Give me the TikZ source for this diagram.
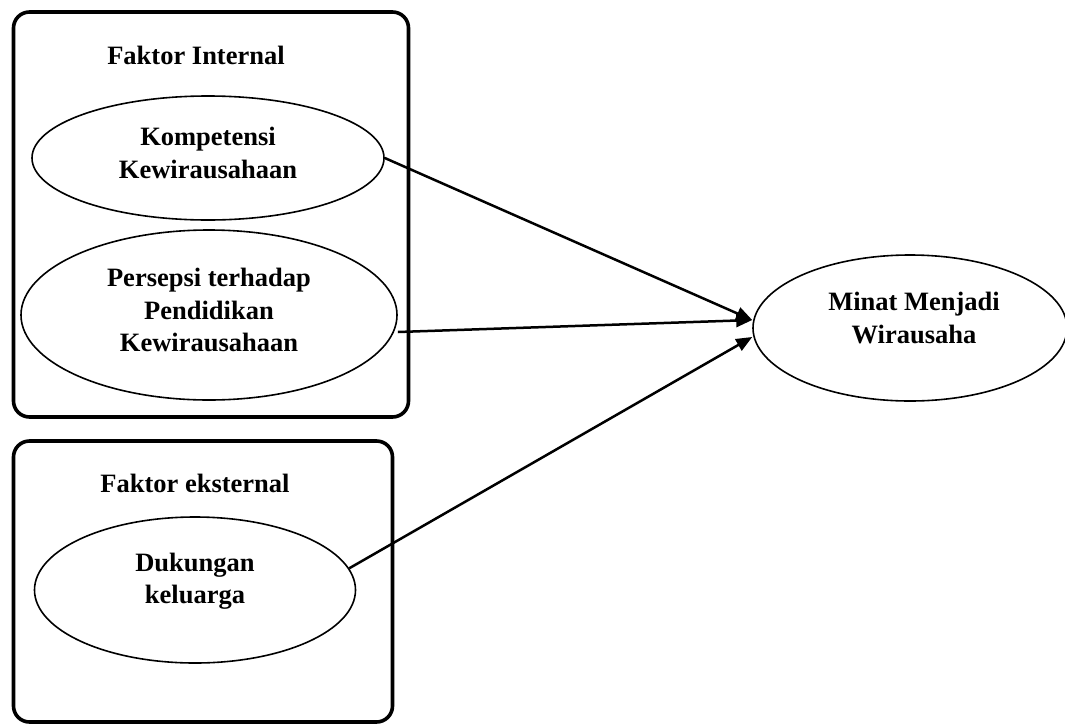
\documentclass[tikz,border=0pt]{standalone}
\usepackage{fontspec}
\setmainfont{Liberation Serif}
\usetikzlibrary{shapes.geometric,arrows.meta}
\begin{document}
\begin{tikzpicture}[x=1pt,y=-1pt,
  grp/.style={draw, line width=3.6pt, rounded corners=16pt, inner sep=0pt},
  oval/.style={draw, ellipse, line width=1.6pt, inner sep=0pt},
  lbl/.style={font=\fontsize{26.5}{32.5}\selectfont\bfseries, align=center, inner sep=0pt},
  arr/.style={line width=2.5pt, -{Triangle[length=16pt,width=13pt]}}]
\useasboundingbox (0,0) rectangle (1065,726);
% group boxes
\node[grp, minimum width=395pt, minimum height=405pt] (gi) at (211,214.5) {};
\node[grp, minimum width=379pt, minimum height=281pt] (ge) at (203,581.5) {};
% ellipses
\node[oval, minimum width=352pt, minimum height=124pt] (e1) at (208,158) {};
\node[oval, minimum width=376pt, minimum height=170pt] (e2) at (209,315) {};
\node[oval, minimum width=321pt, minimum height=146pt] (e3) at (195,590) {};
\node[oval, minimum width=314pt, minimum height=146pt] (m) at (910,328) {};
% labels
\node[lbl] (ti) at (196,55) {Faktor Internal};
\node[lbl] (te) at (195,483) {Faktor eksternal};
\node[lbl] (t1) at (208,153) {Kompetensi\\Kewirausahaan};
\node[lbl] (t2) at (209,310) {Persepsi terhadap\\Pendidikan\\Kewirausahaan};
\node[lbl] (t3) at (195,581) {Dukungan\\keluarga};
\node[lbl] (tm) at (914,318) {Minat Menjadi\\Wirausaha};
% arrow targets
\coordinate (p12) at ([yshift=8pt]m.west);
\coordinate (p3) at ([yshift=-9pt]m.west);
% connectors
\draw[arr] (e1.east) -- (p12);
\draw[arr] ([yshift=-17pt]e2.east) -- (p12);
\draw[arr] (e3.8) -- (p3);
\end{tikzpicture}
\end{document}
